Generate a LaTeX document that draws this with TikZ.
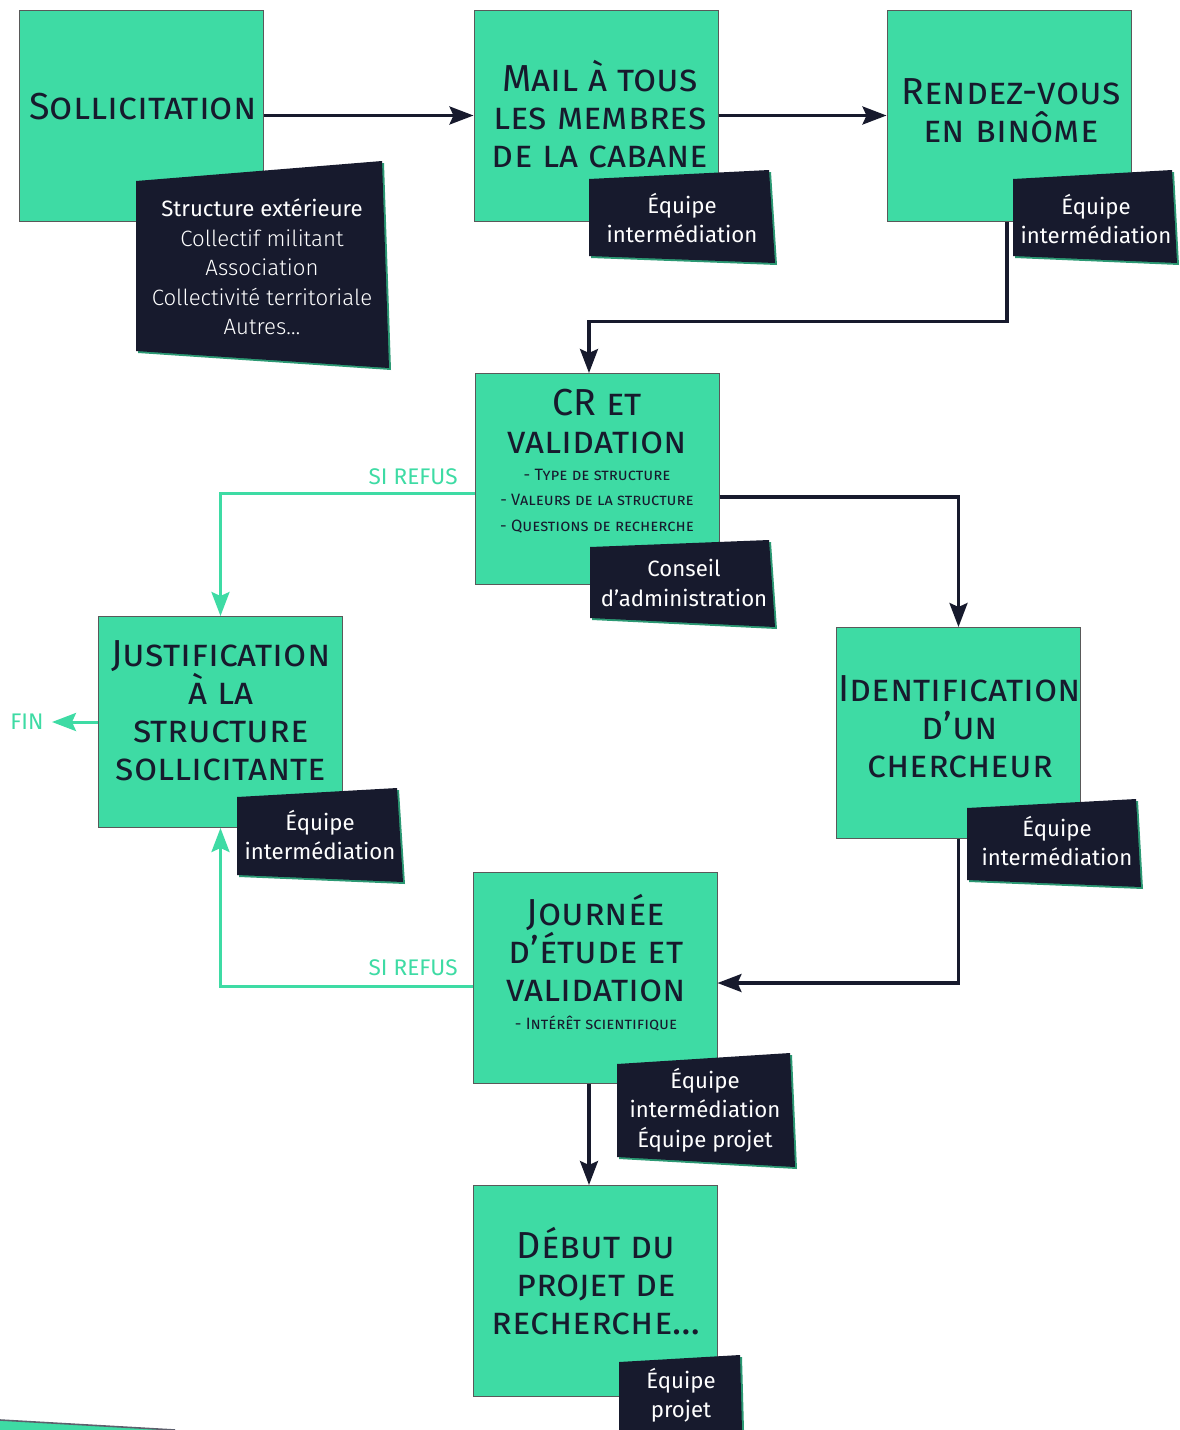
\documentclass[tikz,border=0pt]{standalone}
\usepackage{fontspec}
\setmainfont{Fira Sans}
\newfontfamily\lightfont{Fira Sans Light}
\usetikzlibrary{arrows.meta}

\definecolor{cabgreen}{HTML}{3EDBA4}
\definecolor{cabdark}{HTML}{171A2D}

\begin{document}
\begin{tikzpicture}[x=0.5pt,y=-0.5pt,
    stage/.style ={rectangle, fill=cabgreen, draw=black!65, line width=0.5pt,
                   minimum width=122pt, minimum height=105.5pt},
    title/.style ={align=center, text=cabdark, font=\fontsize{18.8}{19}\selectfont\scshape, inner sep=0pt},
    detail/.style ={align=center, text=cabdark, font=\fontsize{8.2}{12.8}\selectfont\scshape, inner sep=0pt},
    who/.style ={align=center, text=white, font=\fontsize{11.1}{14.7}\selectfont, inner sep=0pt},
    tagbox/.style ={fill=cabdark},
    tagedge/.style ={fill=cabgreen!70!black},
    refus/.style ={text=cabgreen, font=\fontsize{11.3}{13}\selectfont, inner sep=0pt},
    flow/.style ={line width=1.6pt, draw=cabdark, -{Stealth[length=12pt,width=9pt,inset=2pt]}},
    back/.style ={line width=1.5pt, draw=cabgreen, -{Stealth[length=12pt,width=9pt,inset=2pt]}}]
   \useasboundingbox (0,0) rectangle (1179,1430);

   \node[stage] (sol) at (141,115.5) {};
   \node[stage] (mail) at (596,115.5) {};
   \node[stage] (rdv) at (1009,115.5) {};
   \node[stage] (cr) at (597,479) {};
   \node[stage] (just) at (220.5,722) {};
   \node[stage] (ident) at (958.5,733) {};
   \node[stage] (journee) at (595,978) {};
   \node[stage] (debut) at (595,1291) {};

   \node[title] (sol-t) at (143,107) {Sollicitation};
   \node[title] (mail-t) at (600,114) {Mail à tous\\les membres\\de la cabane};
   \node[title] (rdv-t) at (1011,111) {Rendez-vous\\en binôme};
   \node[title] (cr-t) at (597,422) {CR et\\validation};
   \node[detail] (cr-s) at (597,501) {- Type de structure\\- Valeurs de la structure\\- Questions de recherche};
   \node[title] (just-t) at (221,711) {Justification\\à la\\structure\\sollicitante};
   \node[title] (ident-t) at (960,727) {Identification\\d’un\\chercheur};
   \node[title] (journee-t) at (596,948) {Journée\\d’étude et\\validation};
   \node[detail] (journee-s) at (596,1023) {- Intérêt scientifique};
   \node[title] (debut-t) at (596,1281) {Début du\\projet de\\recherche…};

   \draw[flow] (sol) to (mail);
   \draw[flow] (mail) to (rdv);
   \draw[flow] ([xshift=-1pt]rdv.south) -- ++(0,100) -| ([xshift=-4pt]cr.north);
   \draw[flow] ([yshift=-9pt]cr.east) -| (ident.north);
   \draw[flow] (ident.south) |- ([yshift=-2.5pt]journee.east);
   \draw[flow] ([xshift=-3pt]journee.south) to ([xshift=-3pt]debut.north);

   \node[refus, anchor=east] (refus1) at (458,477) {SI REFUS};
   \node[refus, anchor=east] (refus2) at (458,968) {SI REFUS};
   \node[refus] (fin) at (27,722) {FIN};
   \draw[back] ([yshift=-7pt]cr.west) -| (just.north);
   \draw[back] ([yshift=-4pt]journee.west) -| (just.south);
   \draw[back] (just.west) to ([xshift=4pt]fin.east);

   \fill[tagedge] (138,183) -- (384,163) -- (391,370) -- (138,353) -- cycle;
   \fill[tagbox] (136,181) -- (382,161) -- (389,368) -- (136,351) -- cycle;
   \node[who] (sol-w) at (262,267) {Structure extérieure\\{\lightfont Collectif militant}\\{\lightfont Association}\\{\lightfont Collectivité territoriale}\\{\lightfont Autres…}};

   \fill[tagedge] (591,181) -- (771,172) -- (777,265) -- (591,258) -- cycle;
   \fill[tagbox] (589,179) -- (769,170) -- (775,263) -- (589,256) -- cycle;
   \node[who] (mail-w) at (682,218) {Équipe\\intermédiation};

   \fill[tagedge] (1015,181) -- (1174,172) -- (1179,265) -- (1015,258) -- cycle;
   \fill[tagbox] (1013,179) -- (1172,170) -- (1177,263) -- (1013,256) -- cycle;
   \node[who] (rdv-w) at (1096,219) {Équipe\\intermédiation};

   \fill[tagedge] (592,549) -- (771,542) -- (777,629) -- (592,620) -- cycle;
   \fill[tagbox] (590,547) -- (769,540) -- (775,627) -- (590,618) -- cycle;
   \node[who] (cr-w) at (684,583) {Conseil\\d’administration};

   \fill[tagedge] (239,799) -- (399,790) -- (405,884) -- (239,877) -- cycle;
   \fill[tagbox] (237,797) -- (397,788) -- (403,882) -- (237,875) -- cycle;
   \node[who] (just-w) at (320,835) {Équipe\\intermédiation};

   \fill[tagedge] (969,810) -- (1138,801) -- (1143,889) -- (969,882) -- cycle;
   \fill[tagbox] (967,808) -- (1136,799) -- (1141,887) -- (967,880) -- cycle;
   \node[who] (ident-w) at (1057,841) {Équipe\\intermédiation};

   \fill[tagedge] (619,1066) -- (792,1055) -- (797,1169) -- (619,1159) -- cycle;
   \fill[tagbox] (617,1064) -- (790,1053) -- (795,1167) -- (617,1157) -- cycle;
   \node[who] (journee-w) at (705,1110) {Équipe\\intermédiation\\Équipe projet};

   \fill[tagedge] (621,1364) -- (742,1357) -- (744,1430) -- (621,1430) -- cycle;
   \fill[tagbox] (619,1362) -- (740,1355) -- (742,1430) -- (619,1430) -- cycle;
   \node[who] (debut-w) at (681,1395) {Équipe\\projet};

   \fill[cabgreen] (0,1420) -- (175,1430) -- (0,1430) -- cycle;
   \draw[cabdark!70, line width=0.8pt] (0,1420) -- (175,1430);
 \end{tikzpicture}
\end{document}
